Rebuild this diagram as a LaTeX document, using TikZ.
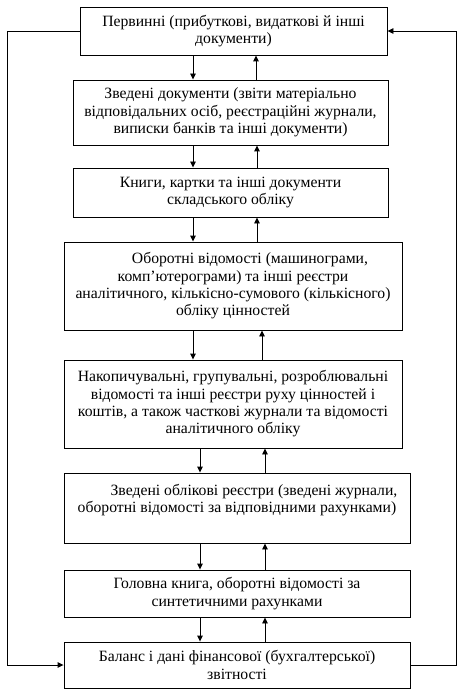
\documentclass[tikz,border=0pt]{standalone}
\usepackage{fontspec}
\setmainfont{Liberation Serif}
\usetikzlibrary{arrows.meta}
\begin{document}
\begin{tikzpicture}[x=1pt,y=-1pt,
  box/.style={draw, line width=0.9pt, align=center, inner sep=0pt,
    font=\fontsize{15.7}{17.3}\selectfont},
  arr/.style={line width=0.9pt, -{Triangle[length=6pt,width=5.5pt]}},
  ln/.style={line width=0.9pt}]
\useasboundingbox (0,0) rectangle (463,695);
\node[box, minimum width=307pt, minimum height=48pt] (b1) at (233.5,31)
  {Первинні (прибуткові, видаткові й інші\\документи)};
\node[box, minimum width=315pt, minimum height=65pt] (b2) at (230.5,112.5)
  {Зведені документи (звіти матеріально\\відповідальних осіб, реєстраційні журнали,\\виписки банків та інші документи)};
\node[box, minimum width=315pt, minimum height=49pt] (b3) at (230.5,192.5)
  {Книги, картки та інші документи\\складського обліку};
\node[box, minimum width=338pt, minimum height=88pt] (b4) at (233,286)
  {\hspace*{34pt}Оборотні відомості (машинограми,\\комп’ютерограми) та інші реєстри\\аналітичного, кількісно-сумового (кількісного)\\обліку цінностей};
\node[box, minimum width=338pt, minimum height=88pt] (b5) at (233,404)
  {Накопичувальні, групувальні, розроблювальні\\відомості та інші реєстри руху цінностей і\\коштів, а також часткові журнали та відомості\\аналітичного обліку};
\node[box, minimum width=346pt, minimum height=70pt] (b6) at (237,508)
  {\hspace*{34pt}Зведені облікові реєстри (зведені журнали,\\оборотні відомості за відповідними рахунками)\\[2pt]\mbox{}};
\node[box, minimum width=346pt, minimum height=47pt] (b7) at (237,593.5)
  {Головна книга, оборотні відомості за\\синтетичними рахунками};
\node[box, minimum width=346pt, minimum height=46pt] (b8) at (237,665)
  {Баланс і дані фінансової (бухгалтерської)\\звітності};
% x positions of the vertical arrows
\coordinate (da) at (193,0);
\coordinate (db) at (200,0);
\coordinate (u1) at (256,0);
\coordinate (u2) at (257,0);
\coordinate (u3) at (262,0);
\coordinate (u4) at (265,0);
\coordinate (L) at (7,0);
\coordinate (R) at (456,0);
\draw[arr] (b1.south -| da) -- (b2.north -| da);
\draw[arr] (b2.north -| u1) -- (b1.south -| u1);
\draw[arr] (b2.south -| da) -- (b3.north -| da);
\draw[arr] (b3.north -| u2) -- (b2.south -| u2);
\draw[arr] (b3.south -| da) -- (b4.north -| da);
\draw[arr] (b4.north -| u2) -- (b3.south -| u2);
\draw[arr] (b4.south -| da) -- (b5.north -| da);
\draw[arr] (b5.north -| u3) -- (b4.south -| u3);
\draw[arr] (b5.south -| db) -- (b6.north -| db);
\draw[arr] (b6.north -| u4) -- (b5.south -| u4);
\draw[arr] (b6.south -| db) -- (b7.north -| db);
\draw[arr] (b7.north -| u4) -- (b6.south -| u4);
\draw[arr] (b7.south -| db) -- (b8.north -| db);
\draw[arr] (b8.north -| u4) -- (b7.south -| u4);
% feedback loops
\draw[arr] (b1.west) -- (b1.west -| L) -- (b8.west -| L) -- (b8.west);
\draw[arr] (b8.east) -- (b8.east -| R) -- (b1.east -| R) -- (b1.east);
\end{tikzpicture}
\end{document}
